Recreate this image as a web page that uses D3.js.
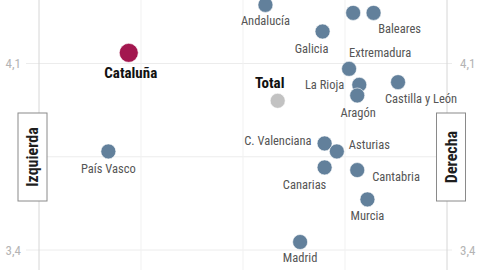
<!DOCTYPE html>
<html>
<head>
<meta charset="utf-8">
<script src="https://cdn.jsdelivr.net/npm/d3@7"></script>
<style>
  html, body { margin: 0; padding: 0; background: #fff; }
  svg { display: block; font-family: "Roboto Condensed", "DejaVu Sans Condensed", sans-serif; }
</style>
</head>
<body>
<div id="chart"></div>
<script>
'use strict';

// regions, left-right placement (x) and value (y)
var regions = ["Andalucía", "Castilla-La Mancha", "Baleares", "Galicia", "Extremadura",
  "Cataluña", "Total", "La Rioja", "Aragón", "Castilla y León", "País Vasco",
  "C. Valenciana", "Asturias", "Canarias", "Cantabria", "Murcia", "Madrid"];
var xValues = [4.61, 5.04, 5.14, 4.89, 5.02, 3.94, 4.67, 5.07, 5.06, 5.26, 3.84,
  4.90, 4.96, 4.90, 5.06, 5.11, 4.78];
var yValues = [4.32, 4.29, 4.29, 4.22, 4.08, 4.14, 3.96, 4.02, 3.98, 4.03, 3.77,
  3.80, 3.77, 3.71, 3.70, 3.59, 3.43];

var xTicks = [3.5, 4.0, 4.5, 5.0, 5.5];
var yTicks = [3.4, 3.75, 4.1];
var yTickLabels = {"3.4": "3,4", "4.1": "4,1"};

// label placement: anchor, dx, dy from the dot centre
var labelPos = {
  "Andalucía": ["middle", 0, 16],
  "Castilla-La Mancha": null,
  "Baleares": ["middle", 26, 16],
  "Galicia": ["middle", -11, 17],
  "Extremadura": ["middle", 31, -16],
  "Cataluña": ["middle", 2, 20],
  "Total": ["middle", -8, -18],
  "La Rioja": ["end", -15, 0],
  "Aragón": ["middle", 1, 17],
  "Castilla y León": ["middle", 23, 16],
  "País Vasco": ["middle", 0, 17],
  "C. Valenciana": ["end", -13, -3],
  "Asturias": ["start", 12, -7],
  "Canarias": ["middle", -20, 17],
  "Cantabria": ["start", 15, 7],
  "Murcia": ["middle", 0, 16],
  "Madrid": ["middle", 0, 16]
};

var width = 480, height = 270;
var dotColor = "#62809b", highlightColor = "#a3174f", totalColor = "#c2c2c2";

var data = regions.map(function (r, i) { return {name: r, x: xValues[i], y: yValues[i]}; });

var svg = d3.select("#chart").append("svg")
  .attr("width", width)
  .attr("height", height);

var x = d3.scaleLinear().domain([3.5, 5.5]).range([39, 447]);
var y = d3.scaleLinear().domain([3.4, 4.1]).range([250, 63.5]);

// grid
svg.append("g").selectAll("line")
  .data(yTicks)
  .enter().append("line")
  .attr("x1", 26).attr("x2", 452)
  .attr("y1", function (d) { return y(d); })
  .attr("y2", function (d) { return y(d); })
  .attr("stroke", "#ececec")
  .attr("stroke-width", 1);

svg.append("g").selectAll("line")
  .data(xTicks)
  .enter().append("line")
  .attr("x1", function (d) { return x(d); })
  .attr("x2", function (d) { return x(d); })
  .attr("y1", 0).attr("y2", height)
  .attr("stroke", function (d, i) { return (i == 0 || i == xTicks.length - 1) ? "#d6d6d6" : "#f1f1f1"; })
  .attr("stroke-width", 1);

// tick labels both sides
var labelled = yTicks.filter(function (d) { return yTickLabels[d] != undefined; });
svg.append("g").selectAll("text")
  .data(labelled)
  .enter().append("text")
  .attr("x", 21)
  .attr("y", function (d) { return y(d); })
  .attr("dy", "0.35em")
  .attr("text-anchor", "end")
  .attr("font-size", 13)
  .attr("fill", "#b4b4b4")
  .text(function (d) { return yTickLabels[d]; });

svg.append("g").selectAll("text")
  .data(labelled)
  .enter().append("text")
  .attr("x", 460)
  .attr("y", function (d) { return y(d); })
  .attr("dy", "0.35em")
  .attr("text-anchor", "start")
  .attr("font-size", 13)
  .attr("fill", "#b4b4b4")
  .text(function (d) { return yTickLabels[d]; });

// side boxes
[["Izquierda", 32.5], ["Derecha", 451]].forEach(function (b) {
  var g = svg.append("g").attr("transform", "translate(" + b[1] + ",157)");
  g.append("rect")
    .attr("x", -14.5).attr("y", -44)
    .attr("width", 29).attr("height", 88)
    .attr("fill", "#fff")
    .attr("stroke", "#8a8a8a")
    .attr("stroke-width", 1);
  g.append("text")
    .attr("transform", "rotate(-90)")
    .attr("text-anchor", "middle")
    .attr("dy", "0.36em")
    .attr("font-size", 16)
    .attr("font-weight", "bold")
    .attr("fill", "#1e1e1e")
    .text(b[0]);
});

// dots
svg.append("g").selectAll("circle")
  .data(data)
  .enter().append("circle")
  .attr("cx", function (d) { return x(d.x); })
  .attr("cy", function (d) { return y(d.y); })
  .attr("r", function (d) { return d.name == "Cataluña" ? 9.5 : 7.5; })
  .attr("fill", function (d) {
    if (d.name == "Cataluña") return highlightColor;
    if (d.name == "Total") return totalColor;
    return dotColor;
  })
  .attr("stroke", "#fff")
  .attr("stroke-width", 0.6);

// labels
var isBold = function (d) { return d.name == "Cataluña" || d.name == "Total"; };
svg.append("g").selectAll("text")
  .data(data.filter(function (d) { return labelPos[d.name]; }))
  .enter().append("text")
  .attr("x", function (d) { return x(d.x) + labelPos[d.name][1]; })
  .attr("y", function (d) { return y(d.y) + labelPos[d.name][2]; })
  .attr("dy", "0.35em")
  .attr("text-anchor", function (d) { return labelPos[d.name][0]; })
  .attr("font-size", function (d) { return isBold(d) ? 15 : 12.5; })
  .attr("font-weight", function (d) { return isBold(d) ? "bold" : "normal"; })
  .attr("fill", function (d) { return isBold(d) ? "#111" : "#555"; })
  .text(function (d) { return d.name; });
</script>
</body>
</html>
